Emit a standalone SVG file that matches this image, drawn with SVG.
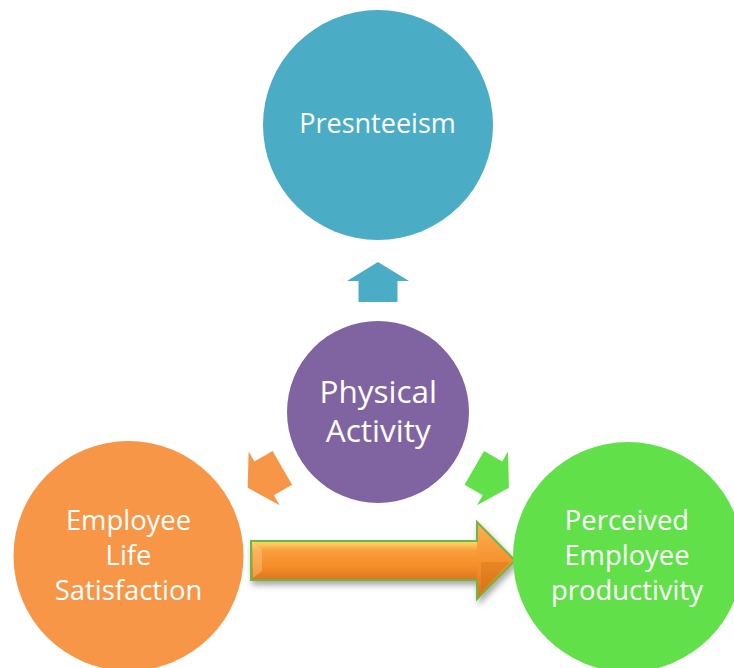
<svg xmlns="http://www.w3.org/2000/svg" xmlns:xlink="http://www.w3.org/1999/xlink" width="734" height="668" viewBox="0 0 734 668">
  <style>
    .lbl { font-family: "Open Sans", "Noto Sans", sans-serif; fill: #FFFFFF; text-anchor: middle; }
    .s27 { font-size: 27.4px; }
    .s31 { font-size: 31.5px; }
  </style>
  <defs>
    <path id="ua" d="M0,-20 L31,-1 L19.5,-1 L19.5,20 L-19.5,20 L-19.5,-1 L-31,-1 Z"/>
    <linearGradient id="shaftGrad" x1="0" y1="541" x2="0" y2="580" gradientUnits="userSpaceOnUse">
      <stop offset="0" stop-color="#EFE36A"/>
      <stop offset="0.1" stop-color="#F9C45C"/>
      <stop offset="0.25" stop-color="#F99E3C"/>
      <stop offset="0.65" stop-color="#F58E28"/>
      <stop offset="1" stop-color="#DC761E"/>
    </linearGradient>
    <linearGradient id="headGrad" x1="0" y1="522" x2="0" y2="599" gradientUnits="userSpaceOnUse">
      <stop offset="0" stop-color="#F9B25A"/>
      <stop offset="0.3" stop-color="#F99E3C"/>
      <stop offset="0.6" stop-color="#F58E28"/>
      <stop offset="1" stop-color="#D8731C"/>
    </linearGradient>
    <filter id="shadow" x="-10%" y="-30%" width="125%" height="170%">
      <feDropShadow dx="2" dy="4" stdDeviation="3" flood-color="#000000" flood-opacity="0.35"/>
    </filter>
  </defs>
  <rect width="734" height="668" fill="#FFFFFF"/>

  <g id="connectors">
    <use xlink:href="#ua" href="#ua" transform="translate(378,282)" fill="#4BACC6"/>
    <use xlink:href="#ua" href="#ua" transform="translate(265,477.8) rotate(-120)" fill="#F79646"/>
    <use xlink:href="#ua" href="#ua" transform="translate(491.6,477.8) rotate(120)" fill="#62E04A"/>
    <g filter="url(#shadow)">
      <path d="M251,541 L478,541 L478,580 L251,580 Z" fill="url(#shaftGrad)"/>
      <path d="M477,522 L515,560.5 L477,599 Z" fill="url(#headGrad)"/>
      <path d="M481,562 L510,562 L481,591 Z" fill="#B8600F" opacity="0.25"/>
      <path d="M253,543 L262,550 L262,571 L253,578 Z" fill="#FFD9A0" opacity="0.35"/>
      <path d="M251,541 L477,541 L477,522 L515,560.5 L477,599 L477,580 L251,580 Z" fill="none" stroke="#74B441" stroke-width="2" stroke-linejoin="miter"/>
    </g>
  </g>

  <g id="node-presenteeism">
    <circle cx="378" cy="125" r="115" fill="#4BACC6"/>
    <text class="lbl" style="font-size:27px" x="377.5" y="133">Presnteeism</text>
  </g>

  <g id="node-physical-activity">
    <circle cx="378" cy="412" r="91" fill="#8064A2"/>
    <text class="lbl s31" x="378.3" y="402.5">Physical</text>
    <text class="lbl s31" x="378.3" y="441.5">Activity</text>
  </g>

  <g id="node-life-satisfaction">
    <circle cx="128.5" cy="556" r="115" fill="#F79646"/>
    <text class="lbl s27" x="128.5" y="530">Employee</text>
    <text class="lbl s27" x="128.5" y="565">Life</text>
    <text class="lbl s27" x="128.5" y="600">Satisfaction</text>
  </g>

  <g id="node-productivity">
    <circle cx="628" cy="557" r="115" fill="#62E04A"/>
    <text class="lbl s27" x="627" y="530">Perceived</text>
    <text class="lbl s27" x="627" y="565">Employee</text>
    <text class="lbl s27" x="627" y="600">productivity</text>
  </g>
</svg>
